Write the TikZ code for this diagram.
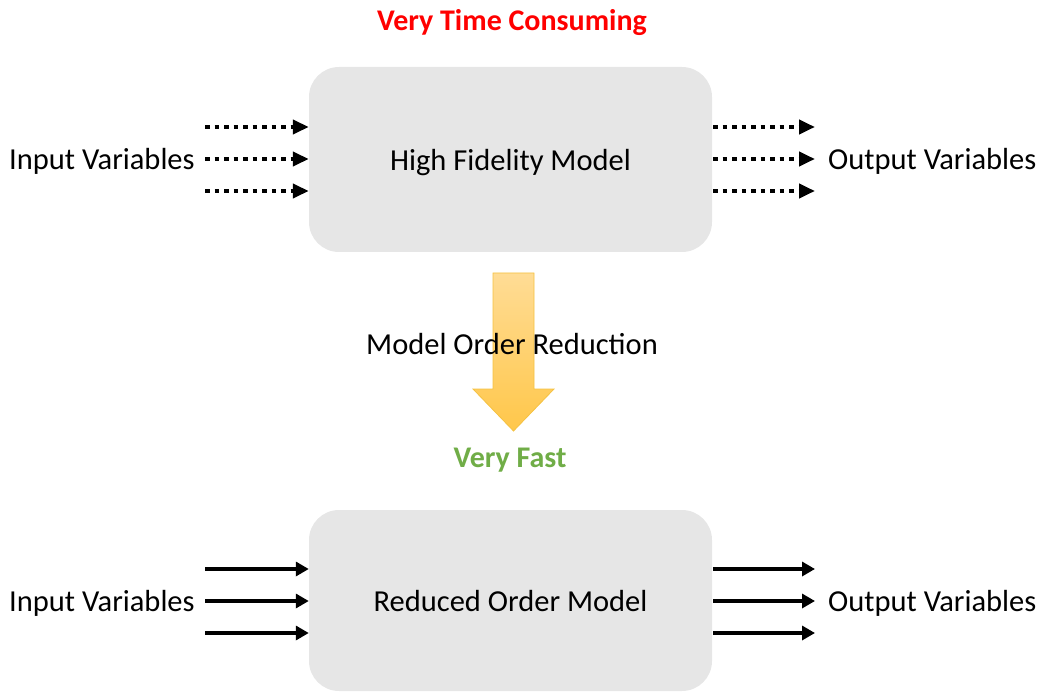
\documentclass[tikz,border=0pt]{standalone}
\usepackage{fontspec}
\setmainfont{Carlito}
\usetikzlibrary{arrows.meta}
\definecolor{boxgray}{HTML}{E6E6E6}
\definecolor{slowred}{HTML}{FF0000}
\definecolor{fastgreen}{HTML}{70AD47}
\definecolor{arrtop}{HTML}{FFDC95}
\definecolor{arrbot}{HTML}{FFC74A}
\definecolor{arredge}{HTML}{F5C242}
\newcommand{\lowertext}[1]{\raisebox{-3pt}[22pt][6pt]{#1}}
\tikzset{
  model/.style={draw=none, fill=boxgray, rounded corners=30pt, minimum width=403pt, inner sep=0pt, font=\fontsize{30.5}{36}\selectfont},
  lbl/.style={inner sep=0pt, font=\fontsize{30.5}{36}\selectfont},
  hdr/.style={inner sep=0pt, font=\bfseries\fontsize{30}{34}\selectfont},
  dotarrow/.style={line width=4.5pt, dash pattern=on 4.5pt off 5pt, -{Triangle[length=16pt,width=14pt]}},
  solidarrow/.style={line width=4pt, -{Triangle[length=13pt,width=14pt]}},
}
\begin{document}
\begin{tikzpicture}[x=1pt,y=-1pt]
\useasboundingbox (0,0) rectangle (1040,692);

% titles
\node[hdr, text=slowred] (slow) at (512,23) {Very Time Consuming};
\node[hdr, text=fastgreen] (fast) at (510,460) {Very Fast};

% models
\node[model, minimum height=185pt] (hf) at (510.5,159.5) {\lowertext{High Fidelity Model}};
\node[model, minimum height=181pt] (rom) at (510.5,600.5) {\lowertext{Reduced Order Model}};

% labels
\node[lbl, anchor=west] (in1) at (9,161) {Input Variables};
\node[lbl, anchor=west] (out1) at (828,161) {Output Variables};
\node[lbl, anchor=west] (in2) at (9,603) {Input Variables};
\node[lbl, anchor=west] (out2) at (828,603) {Output Variables};

% coordinates
\coordinate (a1) at (205,127);
\coordinate (a2) at (205,159);
\coordinate (a3) at (205,191);
\coordinate (b1) at (815,127);
\coordinate (b2) at (815,159);
\coordinate (b3) at (815,191);
\coordinate (c1) at (205,569);
\coordinate (c2) at (205,601);
\coordinate (c3) at (205,633);
\coordinate (d1) at (815,569);
\coordinate (d2) at (815,601);
\coordinate (d3) at (815,633);

% top arrows (dotted)
\foreach \i in {1,2,3} {
  \draw[dotarrow] (a\i) -- (a\i -| hf.west);
  \draw[dotarrow] (a\i -| hf.east) ++(1,0) -- (b\i);
}
% bottom arrows (solid)
\foreach \i in {1,2,3} {
  \draw[solidarrow] (c\i) -- (c\i -| rom.west);
  \draw[solidarrow] (c\i -| rom.east) ++(1,0) -- (d\i);
}

% big reduction arrow
\draw[draw=arredge, line width=0.8pt, top color=arrtop, bottom color=arrbot]
  (493,273) -- (534,273) -- (534,389) -- (554,389) -- (513.5,431) -- (473,389) -- (493,389) -- cycle;
\node[lbl] (mor) at (512,344) {Model Order Reduction};
\end{tikzpicture}
\end{document}
